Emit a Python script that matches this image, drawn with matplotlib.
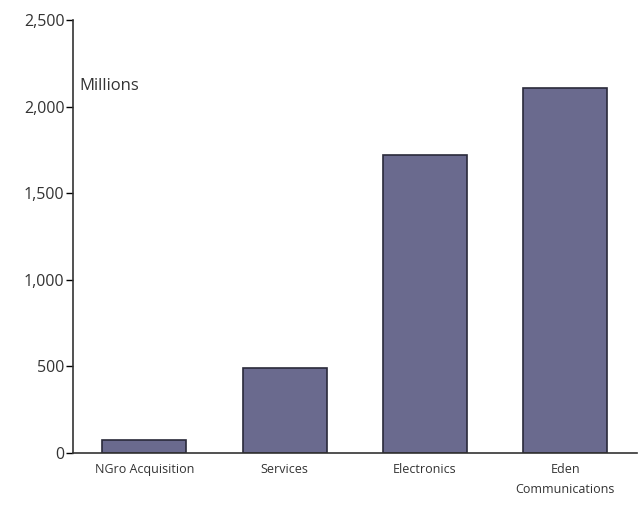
import matplotlib.pyplot as plt
from matplotlib.ticker import FuncFormatter

# Revenue by business unit, in millions
units = ["NGro Acquisition", "Services", "Electronics", "Eden\nCommunications"]
revenue = [75, 490, 1720, 2110]
y_ticks = [0, 500, 1000, 1500, 2000, 2500]

plt.rcParams['font.family'] = ['Open Sans', 'DejaVu Sans']

fig = plt.figure(figsize=(6.44, 5.12), dpi=100)
ax = fig.add_axes([0.113, 0.115, 0.876, 0.846])

ax.bar(range(len(units)), revenue, width=0.6, color="#6a6a8e",
       edgecolor="#2a2a3a", linewidth=1.2)

ax.set_xlim(-0.51, len(units) - 0.49)
ax.set_ylim(0, 2500)
ax.set_yticks(y_ticks)
ax.yaxis.set_major_formatter(FuncFormatter(lambda v, p: f"{int(v):,}"))
ax.set_xticks(range(len(units)))
ax.set_xticklabels(units, fontsize=9, color="#333333", linespacing=1.7)
ax.tick_params(axis="x", length=0, pad=7)
ax.tick_params(axis="y", length=5, width=1, labelsize=11.5, labelcolor="#333333", pad=1)

for side in ["top", "right"]:
    ax.spines[side].set_visible(False)
for side in ["left", "bottom"]:
    ax.spines[side].set_linewidth(1.2)
    ax.spines[side].set_color("#333333")

ax.text(0.012, 0.848, "Millions", transform=ax.transAxes, fontsize=12,
        color="#333333", ha="left", va="center")

plt.savefig("out.png", dpi=100)
